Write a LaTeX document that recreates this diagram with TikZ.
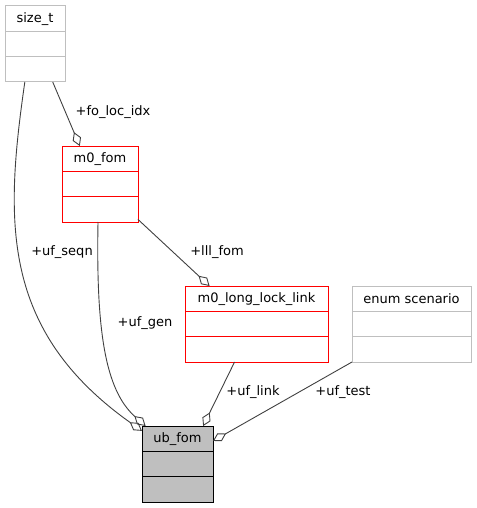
\documentclass[tikz,border=0pt]{standalone}
\usepackage{fontspec}
\setmainfont{DejaVu Sans}
\usetikzlibrary{arrows.meta, calc}

% Pudełko klasy: nazwa, x, y (lewy górny róg), szerokość, styl, tytuł
\newcommand{\umlclass}[6]{%
    \node[classbody, #5, minimum width=#4, anchor=north west] (#1) at (#2,#3) {};
    \node[classtitle] (#1-title) at ($(#1.north)!1/6!(#1.south)$) {#6};
    \draw[#5] ($(#1.north west)!1/3!(#1.south west)$) -- ($(#1.north east)!1/3!(#1.south east)$);
    \draw[#5] ($(#1.north west)!2/3!(#1.south west)$) -- ($(#1.north east)!2/3!(#1.south east)$);
}

\begin{document}
\begin{tikzpicture}[x=1pt, y=-1pt,
    font=\fontsize{13}{15}\selectfont,
    classbody/.style={rectangle, minimum height=76pt, inner sep=0pt, outer sep=0pt, line width=1pt},
    classtitle/.style={inner sep=0pt},
    member/.style={draw=black!75, line width=0.9pt, {Diamond[open, length=15pt, width=9pt]}-},
    lbl/.style={inner sep=0pt}]

    \useasboundingbox (0,0) rectangle (476,508);

    % 1. Klasy
    \umlclass{sizet}{5}{6}{60pt}{draw=black!25}{size\_t}
    \umlclass{mfom}{62}{146}{76pt}{draw=red}{m0\_fom}
    \umlclass{lll}{185}{286}{143pt}{draw=red}{m0\_long\_lock\_link}
    \umlclass{scen}{352}{286}{119pt}{draw=black!25}{enum scenario}
    \umlclass{ubfom}{142}{426}{71pt}{draw=black, fill=black!25}{ub\_fom}

    % 2. Powiązania (romb po stronie właściciela)
    \draw[member] (mfom.118) -- (sizet.-65);
    \draw[member] (ubfom.137) .. controls (0,330) and (5,220) .. (sizet.-105);
    \draw[member] (ubfom.130) .. controls (105,390) and (96,330) .. (mfom.-93);
    \draw[member] (lll.141) -- (mfom.-43);
    \draw[member] (ubfom.56) -- (lll.-120);
    \draw[member] (ubfom.33) -- (scen.south west);

    % 3. Podpisy ról
    \node[lbl] (l-idx) at (113,112) {+fo\_loc\_idx};
    \node[lbl] (l-seqn) at (62,252) {+uf\_seqn};
    \node[lbl] (l-gen) at (145,323) {+uf\_gen};
    \node[lbl] (l-lll) at (217,252) {+lll\_fom};
    \node[lbl] (l-link) at (253,392) {+uf\_link};
    \node[lbl] (l-test) at (343,392) {+uf\_test};

\end{tikzpicture}
\end{document}
